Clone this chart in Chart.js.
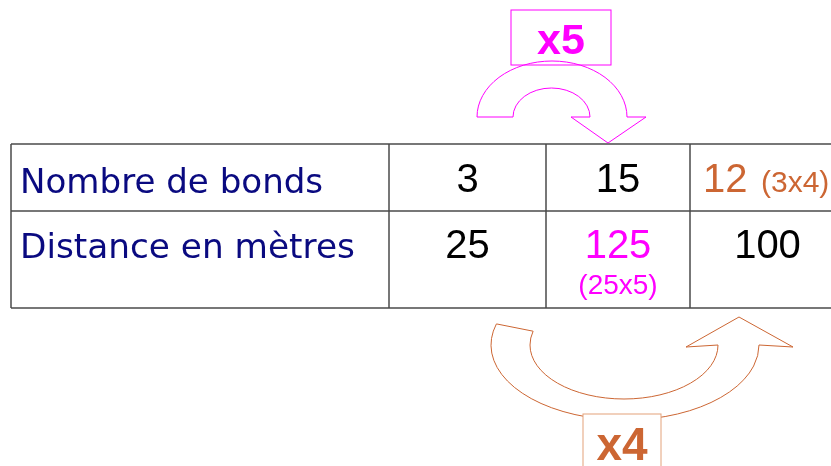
<!DOCTYPE html>
<html>
<head>
<meta charset="utf-8">
<script src="https://cdn.jsdelivr.net/npm/chart.js@4/dist/chart.umd.min.js"></script>
<style>
  html, body { margin: 0; padding: 0; background: #fff; }
  #wrap { width: 831px; height: 466px; position: relative; }
</style>
</head>
<body>
<div id="wrap"><canvas id="myChart"></canvas></div>
<script>
// table content
var rowLabels = ['Nombre de bonds', 'Distance en mètres'];
var bonds = ['3', '15', '12'];
var distances = ['25', '125', '100'];
var bondNotes = ['', '', '(3x4)'];
var distNotes = ['', '(25x5)', ''];
var factors = ['x5', 'x4'];

// layout in scale units (x: 0..831, y: 0..466 from the top)
var colEdges = [11, 389, 546, 690, 845];
var rowEdges = [144, 211, 308];

var navy = '#0A0A80', black = '#000', magenta = '#FF00FF', orange = '#CC6633';
var bondColors = [black, black, orange];
var distColors = [black, magenta, black];

var tablePlugin = {
    id: 'tableDraw',
    afterDraw: function(chart) {
        var c = chart.ctx;
        var xs = chart.scales.x, ys = chart.scales.y;
        var X = function(v){ return xs.getPixelForValue(v); };
        var Y = function(v){ return ys.getPixelForValue(v); };
        c.save();

        // grid
        c.strokeStyle = '#4a4a4a';
        c.lineWidth = 1.5;
        rowEdges.forEach(function(r){
            c.beginPath(); c.moveTo(X(colEdges[0]), Y(r)); c.lineTo(X(831), Y(r)); c.stroke();
        });
        colEdges.slice(0, 4).forEach(function(col){
            c.beginPath(); c.moveTo(X(col), Y(rowEdges[0])); c.lineTo(X(col), Y(rowEdges[2])); c.stroke();
        });

        // row labels, fitted to width
        var labelWidths = [303, 335];
        c.fillStyle = navy;
        c.textAlign = 'left';
        c.textBaseline = 'alphabetic';
        rowLabels.forEach(function(txt, i){
            c.font = '100px "DejaVu Sans"';
            var size = 100 * labelWidths[i] / c.measureText(txt).width;
            c.font = size.toFixed(1) + 'px "DejaVu Sans"';
            c.fillText(txt, X(20), Y(i === 0 ? 193 : 258));
        });

        // values (column j sits between colEdges[j+1] and colEdges[j+2])
        var numFont = '40px "Liberation Sans", Arial, sans-serif';
        var noteFont = '28px "Liberation Sans", Arial, sans-serif';
        for (var j = 0; j < 3; j++) {
            var cx = (colEdges[j + 1] + colEdges[j + 2]) / 2;
            c.font = numFont;
            if (bondNotes[j]) {
                c.textAlign = 'left';
                c.fillStyle = bondColors[j];
                c.fillText(bonds[j], X(703), Y(192));
                c.font = '30px "Liberation Sans", Arial, sans-serif';
                c.fillText(bondNotes[j], X(761), Y(192));
            } else {
                c.textAlign = 'center';
                c.fillStyle = bondColors[j];
                c.fillText(bonds[j], X(cx), Y(192));
            }
            c.font = numFont;
            c.textAlign = 'center';
            c.fillStyle = distColors[j];
            c.fillText(distances[j], X(cx), Y(258));
            if (distNotes[j]) {
                c.font = noteFont;
                c.fillText(distNotes[j], X(cx), Y(294));
            }
        }

        // x5 box and arrow
        c.lineWidth = 1;
        c.strokeStyle = magenta;
        c.strokeRect(X(511), Y(10), X(611) - X(511), Y(65) - Y(10));
        c.fillStyle = magenta;
        c.font = 'bold 43px "Liberation Sans", Arial, sans-serif';
        c.textAlign = 'center';
        c.fillText(factors[0], X(561), Y(54));

        var sx = X(1) - X(0), sy = Y(1) - Y(0);
        c.beginPath();
        c.moveTo(X(477), Y(117));
        c.ellipse(X(552), Y(117), 75 * sx, 56 * sy, 0, Math.PI, 0, false);
        c.lineTo(X(646), Y(117));
        c.lineTo(X(608), Y(143));
        c.lineTo(X(571), Y(117));
        c.lineTo(X(590), Y(117));
        c.ellipse(X(551.5), Y(117), 38.5 * sx, 29 * sy, 0, 0, Math.PI, true);
        c.closePath();
        c.stroke();

        // x4 arrow and box
        c.strokeStyle = orange;
        c.beginPath();
        c.moveTo(X(497), Y(324));
        c.ellipse(X(625), Y(345), 134 * sx, 75 * sy, 0, 3.426, 0, true);
        c.lineTo(X(793), Y(347));
        c.lineTo(X(739), Y(317));
        c.lineTo(X(686), Y(347));
        c.lineTo(X(718), Y(345));
        c.ellipse(X(624), Y(345), 94 * sx, 54 * sy, 0, 0, 3.40, false);
        c.closePath();
        c.stroke();

        c.fillStyle = '#fff';
        c.fillRect(X(583), Y(414), X(661) - X(583), Y(470) - Y(414));
        c.strokeStyle = '#E3A27A';
        c.strokeRect(X(583), Y(414), X(661) - X(583), Y(470) - Y(414));
        c.fillStyle = orange;
        c.font = 'bold 46px "Liberation Sans", Arial, sans-serif';
        c.fillText(factors[1], X(622), Y(460));

        c.restore();
    }
};

var ctx = document.getElementById('myChart').getContext('2d');
var chart = new Chart(ctx, {
    type: 'scatter',
    data: { datasets: [] },
    options: {
        responsive: true,
        maintainAspectRatio: false,
        animation: false,
        layout: { padding: 0 },
        plugins: { legend: { display: false }, tooltip: { enabled: false } },
        scales: {
            x: { type: 'linear', min: 0, max: 831, display: false },
            y: { type: 'linear', min: 0, max: 466, reverse: true, display: false }
        }
    },
    plugins: [tablePlugin]
});
</script>
</body>
</html>
